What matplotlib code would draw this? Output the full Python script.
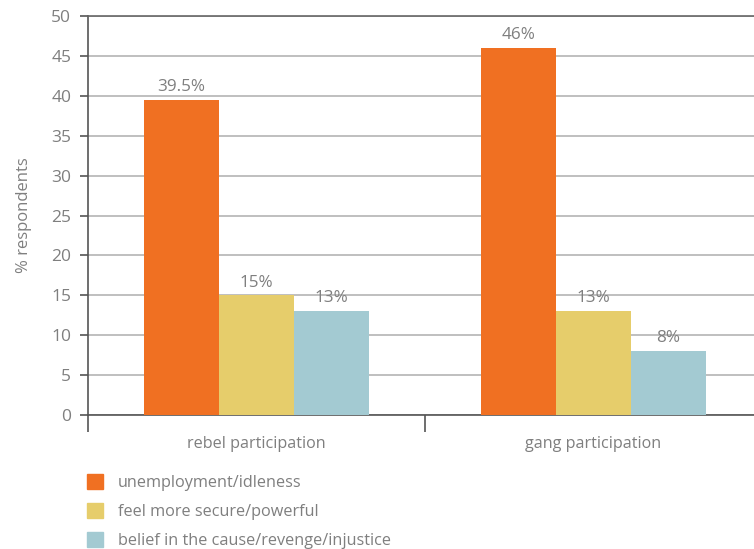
import matplotlib.pyplot as plt
import numpy as np
from matplotlib.patches import Patch

plt.rcParams['font.family'] = ['Open Sans', 'DejaVu Sans']

# Daten
categories = ['rebel participation', 'gang participation']
series = ['unemployment/idleness', 'feel more secure/powerful',
          'belief in the cause/revenge/injustice']
values = [[39.5, 46], [15, 13], [13, 8]]
labels = [['39.5%', '46%'], ['15%', '13%'], ['13%', '8%']]
colors = ['#F07022', '#E6CD6B', '#A3CAD2']

txt = '#7f7f7f'
fig = plt.figure(figsize=(7.54, 5.49), dpi=100)
ax = fig.add_axes([88 / 754, 1 - 415 / 549, 674 / 754, 399 / 549])

x = np.arange(len(categories)) + 0.5
w = 0.222
for i, (vals, labs, c) in enumerate(zip(values, labels, colors)):
    xs = x + (i - 1) * w
    ax.bar(xs, vals, width=w, color=c, zorder=3)
    for xi, v, l in zip(xs, vals, labs):
        ax.text(xi, v + 0.6, l, ha='center', va='bottom', color=txt, fontsize=12.3)

ax.set_xlim(0, 2)
ax.set_ylim(0, 50)
ax.set_yticks(range(0, 51, 5))
ax.yaxis.grid(True, color='#b4b4b4', lw=1.2, zorder=0)
ax.tick_params(axis='y', length=6, width=1.2, color='#555555', labelcolor=txt,
               labelsize=12.5, pad=6)

ax.set_xticks([0, 1, 2])
ax.set_xticklabels([])
ax.tick_params(axis='x', which='major', length=12, width=1.2, color='#555555')
ax.set_xticks(x, minor=True)
ax.set_xticklabels(categories, minor=True)
ax.tick_params(axis='x', which='minor', length=0, pad=15, labelcolor=txt, labelsize=11.6)

for s in ['left', 'bottom', 'top']:
    ax.spines[s].set_color('#555555')
    ax.spines[s].set_linewidth(1.2)
ax.spines['top'].set_color('#666666')
ax.spines['right'].set_visible(False)

ax.set_ylabel('% respondents', color=txt, fontsize=12, labelpad=14)

handles = [Patch(color=c) for c in colors]
fig.legend(handles, series, loc='upper left', bbox_to_anchor=(72 / 754, 1 - 459 / 549),
           frameon=False, handlelength=1.0, handleheight=1.1, handletextpad=0.9,
           labelspacing=0.72, fontsize=11.7, labelcolor=txt)

fig.savefig('out.png', dpi=100)
